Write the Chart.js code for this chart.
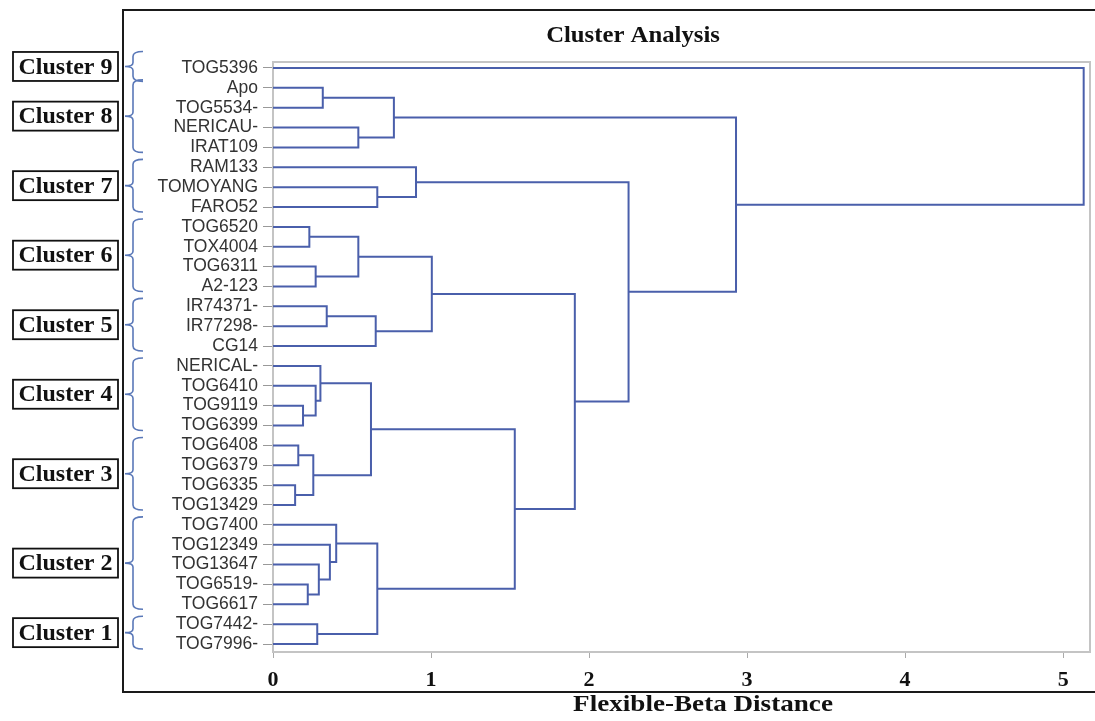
<!DOCTYPE html>
<html><head><meta charset="utf-8">
<script src="https://cdn.jsdelivr.net/npm/chart.js@4/dist/chart.umd.min.js"></script>
<style>html,body{margin:0;padding:0;background:#fff;} #wrap{width:1095px;height:721px;position:relative;}</style>
</head><body><div id="wrap"><canvas id="c" width="1095" height="721"></canvas></div>
<script>
// ---- data ----
const leaves = ['TOG5396','Apo','TOG5534-','NERICAU-','IRAT109','RAM133','TOMOYANG','FARO52',
  'TOG6520','TOX4004','TOG6311','A2-123','IR74371-','IR77298-','CG14','NERICAL-','TOG6410',
  'TOG9119','TOG6399','TOG6408','TOG6379','TOG6335','TOG13429','TOG7400','TOG12349','TOG13647',
  'TOG6519-','TOG6617','TOG7442-','TOG7996-'];
// [child A, child B, joining distance]; ids 0..29 are leaves, 30+ are earlier merges in order
const merges = [
  [21,22,0.14],[19,20,0.16],[17,18,0.19],[26,27,0.22],[8,9,0.23],
  [31,30,0.255],[10,11,0.27],[16,32,0.27],[28,29,0.28],[25,33,0.29],
  [15,37,0.30],[1,2,0.315],[12,13,0.34],[24,39,0.36],[23,43,0.40],
  [34,36,0.54],[3,4,0.54],[40,35,0.62],[42,14,0.65],[6,7,0.66],
  [44,38,0.66],[41,46,0.765],[5,49,0.905],[45,48,1.005],[47,50,1.53],
  [53,54,1.91],[52,55,2.25],[51,56,2.93],[0,57,5.13]
];
const xTickValues = [0,1,2,3,4,5];
const clusterNames = ['Cluster 9','Cluster 8','Cluster 7','Cluster 6','Cluster 5','Cluster 4','Cluster 3','Cluster 2','Cluster 1'];
const clusterFirst = [0,1,5,8,12,15,19,23,28];
const clusterLast  = [0,4,7,11,14,18,22,27,29];
const chartTitle = 'Cluster Analysis';
const xTitle = 'Flexible-Beta Distance';

// ---- build dendrogram segments ----
const LINE = '#4a5fab';
const nodeX = leaves.map(() => 0);
const nodeY = leaves.map((_, i) => i);
const datasets = [];
merges.forEach(([a, b, h]) => {
  datasets.push({
    data: [{x: nodeX[a], y: nodeY[a]}, {x: h, y: nodeY[a]}, {x: h, y: nodeY[b]}, {x: nodeX[b], y: nodeY[b]}],
    showLine: true, borderColor: LINE, borderWidth: 2, pointRadius: 0,
    borderJoinStyle: 'miter', borderCapStyle: 'butt', tension: 0, clip: false
  });
  nodeX.push(h);
  nodeY.push((nodeY[a] + nodeY[b]) / 2);
});

const SERIF = "'Liberation Serif','Times New Roman',serif";
const SANS = "'Liberation Sans',Arial,sans-serif";

const deco = {
  id: 'deco',
  beforeDatasetsDraw(chart) {
    const {ctx, chartArea: a} = chart;
    ctx.save();
    ctx.strokeStyle = '#c4c4c4'; ctx.lineWidth = 2;
    ctx.strokeRect(a.left, a.top, a.right - a.left, a.bottom - a.top);
    ctx.restore();
  },
  afterDraw(chart) {
    const {ctx} = chart;
    const ys = chart.scales.y;
    ctx.save();
    // outer black frame (left, top, bottom)
    ctx.strokeStyle = '#1a1a1a'; ctx.lineWidth = 2;
    ctx.beginPath();
    ctx.moveTo(1095, 10); ctx.lineTo(123, 10); ctx.lineTo(123, 692); ctx.lineTo(1095, 692);
    ctx.stroke();
    // title
    ctx.fillStyle = '#111';
    ctx.font = 'bold 24px ' + SERIF;
    ctx.textAlign = 'center'; ctx.textBaseline = 'alphabetic';
    ctx.save(); ctx.translate(633, 42); ctx.scale(1.03, 1);
    ctx.fillText(chartTitle, 0, 0);
    ctx.restore();
    // x-axis title
    ctx.font = 'bold 24px ' + SERIF;
    ctx.save(); ctx.translate(703, 711); ctx.scale(1.13, 1);
    ctx.fillText(xTitle, 0, 0);
    ctx.restore();
    // cluster braces & boxes
    clusterNames.forEach((name, i) => {
      let t = clusterFirst[i] - 0.4, b = clusterLast[i] + 0.25;
      if (b - t < 1.5) { const m = (t + b) / 2; t = m - 0.75; b = m + 0.75; }
      const yT = ys.getPixelForValue(t), yB = ys.getPixelForValue(b), mid = (yT + yB) / 2;
      ctx.strokeStyle = '#5a78b8'; ctx.lineWidth = 1.6;
      ctx.beginPath();
      ctx.moveTo(143, yT);
      ctx.quadraticCurveTo(133, yT, 133, yT + 5);
      ctx.lineTo(133, mid - 4);
      ctx.quadraticCurveTo(133, mid, 125, mid);
      ctx.quadraticCurveTo(133, mid, 133, mid + 4);
      ctx.lineTo(133, yB - 5);
      ctx.quadraticCurveTo(133, yB, 143, yB);
      ctx.stroke();
      ctx.strokeStyle = '#111'; ctx.lineWidth = 1.8;
      ctx.strokeRect(13, mid - 14.5, 105, 29);
      ctx.fillStyle = '#111';
      ctx.font = 'bold 24px ' + SERIF;
      ctx.textAlign = 'center'; ctx.textBaseline = 'middle';
      ctx.fillText(name, 65.5, mid + 1);
    });
    ctx.restore();
  }
};

new Chart(document.getElementById('c'), {
  type: 'scatter',
  data: {datasets},
  options: {
    responsive: false, animation: false, events: [],
    layout: {padding: {left: 140, top: 62, right: 5, bottom: 29}},
    plugins: {legend: {display: false}, title: {display: false}, tooltip: {enabled: false}},
    scales: {
      x: {
        type: 'linear', min: 0, max: 5.17,
        afterBuildTicks: ax => { ax.ticks = xTickValues.map(v => ({value: v})); },
        afterFit: ax => { ax.height = 40; },
        ticks: {autoSkip: false, maxRotation: 0, padding: 9, color: '#111',
          font: {family: SERIF, weight: 'bold', size: 22},
          callback: v => String(v)},
        grid: {drawOnChartArea: false, drawTicks: true, tickLength: 6, color: '#aaa', lineWidth: 1},
        border: {display: false}
      },
      y: {
        type: 'linear', reverse: true, min: -0.3, max: 29.4,
        afterBuildTicks: ax => { ax.ticks = leaves.map((_, i) => ({value: i})); },
        afterFit: ax => { ax.width = 133; },
        ticks: {autoSkip: false, padding: 5, color: '#333',
          font: {family: SANS, size: 17.5},
          callback: v => leaves[v]},
        grid: {drawOnChartArea: false, drawTicks: true, tickLength: 10, color: '#999', lineWidth: 1},
        border: {display: false}
      }
    }
  },
  plugins: [deco]
});
</script></body></html>
